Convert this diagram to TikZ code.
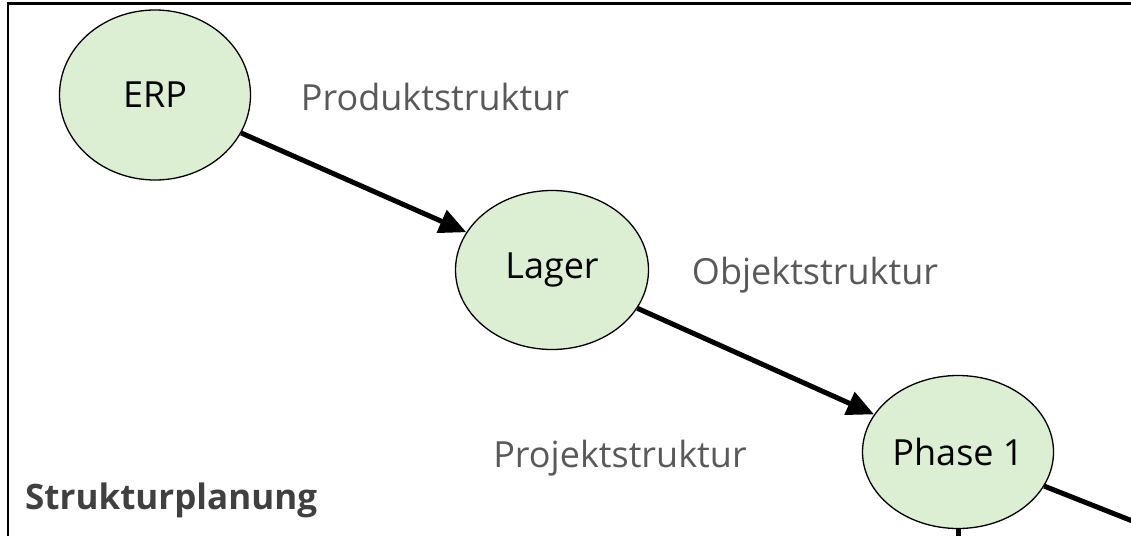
\documentclass[tikz,border=0pt]{standalone}
\usepackage{fontspec}
\setmainfont{Open Sans}
\usetikzlibrary{shapes.geometric,arrows.meta}
\definecolor{nodefill}{RGB}{220,239,210}
\definecolor{labelgray}{RGB}{89,89,89}
\definecolor{titlegray}{RGB}{64,64,64}
\begin{document}
\begin{tikzpicture}[x=1pt,y=-1pt,
  phasenode/.style={ellipse,draw=black,line width=1.3pt,fill=nodefill,inner sep=0pt,
    font=\fontsize{36}{42}\selectfont,text=black},
  flowlabel/.style={font=\fontsize{36}{42}\selectfont,text=labelgray,inner sep=0pt},
  flowarrow/.style={line width=5pt,-{Triangle[length=27pt,width=24pt]}},
  flowline/.style={line width=5pt}]
\useasboundingbox (0,0) rectangle (1131,535);
\clip (0,0) rectangle (1131,535);
\draw[line width=2.5pt] (8,540) -- (8,3.5) -- (1135,3.5);
\node[phasenode,minimum width=191pt,minimum height=170pt] (erp) at (155,95) {ERP};
\node[phasenode,minimum width=193pt,minimum height=159pt] (lager) at (552,270) {Lager};
\node[phasenode,minimum width=191pt,minimum height=153pt] (phase) at (958,452) {Phase 1};
\coordinate (offright) at (1140,524);
\coordinate (offbottom) at (958,540);
\draw[flowarrow] (erp) -- (lager);
\draw[flowarrow] (lager) -- (phase);
\draw[flowline] (phase) -- (offright);
\draw[flowline] (phase.south) -- (offbottom);
\node[flowlabel] (lprod) at (435,97) {Produktstruktur};
\node[flowlabel] (lobj) at (815,275) {Objektstruktur};
\node[flowlabel] (lproj) at (620,458) {Projektstruktur};
\node[anchor=west,inner sep=0pt,font=\fontsize{35}{42}\selectfont\bfseries,text=titlegray] (title) at (25,500) {Strukturplanung};
\end{tikzpicture}
\end{document}
